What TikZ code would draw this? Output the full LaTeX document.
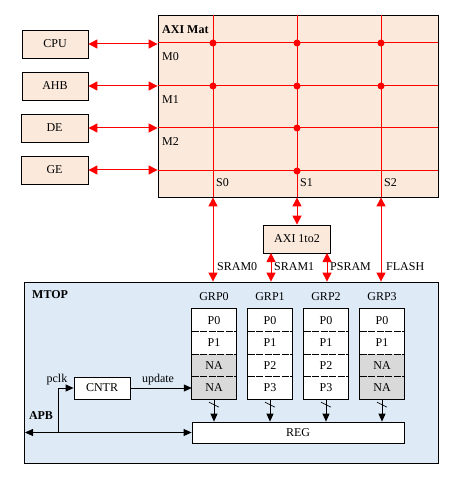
\documentclass[tikz,border=0pt]{standalone}
\usepackage{fontspec}
\setmainfont{Liberation Serif}
\usetikzlibrary{arrows.meta,positioning,calc}
\definecolor{peach}{HTML}{FBE9DC}
\definecolor{lblue}{HTML}{DEEAF6}
\definecolor{ngray}{HTML}{D9D9D9}
\definecolor{rline}{HTML}{FF0000}
\begin{document}
\begin{tikzpicture}[x=1pt,y=-1pt,
  font=\fontsize{12}{14}\selectfont,
  box/.style={draw=black,line width=0.8pt,inner sep=0pt,align=center},
  pbox/.style={box,fill=peach},
  cell/.style={inner sep=0pt,minimum width=44pt,minimum height=22.5pt},
  rl/.style={draw=rline,line width=1pt},
  rarr/.style={rl,{Triangle[length=9pt,width=9pt]}-{Triangle[length=9pt,width=9pt]}},
  rdot/.style={fill=rline,circle,inner sep=0pt,minimum size=7pt},
  barr/.style={draw=black,line width=0.8pt,-{Triangle[length=8pt,width=7pt]}},
  bdarr/.style={draw=black,line width=0.8pt,{Triangle[length=8pt,width=7pt]}-{Triangle[length=8pt,width=7pt]}},
  lbl/.style={inner sep=0pt,anchor=west}
]
\useasboundingbox (0,0) rectangle (452,478);

% masters
\node[pbox,minimum width=66pt,minimum height=28pt] (cpu) at (55,44) {CPU};
\node[pbox,minimum width=66pt,minimum height=28pt] (ahb) at (55,86) {AHB};
\node[pbox,minimum width=67pt,minimum height=28pt] (de) at (54.5,128) {DE};
\node[pbox,minimum width=67pt,minimum height=28pt] (ge) at (54.5,170) {GE};

% AXI Mat
\node[pbox,minimum width=280pt,minimum height=182pt] (mat) at (298,106) {};
\coordinate (r0) at (158,43);
\coordinate (r1) at (158,86);
\coordinate (r2) at (158,128);
\coordinate (r3) at (158,171);
\coordinate (c0) at (213,15);
\coordinate (c1) at (297,15);
\coordinate (c2) at (381,15);
\foreach \r in {r0,r1,r2,r3}{\draw[rl] (\r) -- (\r -| mat.east);}
\foreach \c in {c0,c1,c2}{\draw[rl] (\c) -- (\c |- mat.south);}
\foreach \r/\c in {r0/c0,r0/c1,r0/c2,r1/c0,r1/c1,r1/c2,r2/c1,r3/c1}{\node[rdot] at (\r -| \c) {};}
\node[lbl,font=\fontsize{12}{14}\selectfont\bfseries] (matl) at (162,30) {AXI Mat};
\node[lbl] (m0) at (162,57) {M0};
\node[lbl] (m1) at (162,100) {M1};
\node[lbl] (m2) at (162,142) {M2};
\node[lbl] (s0) at (216,183) {S0};
\node[lbl] (s1) at (300,183) {S1};
\node[lbl] (s2) at (384,183) {S2};

% master arrows
\draw[rarr] (cpu.east) -- (cpu.east -| mat.west);
\draw[rarr] (ahb.east) -- (ahb.east -| mat.west);
\draw[rarr] (de.east) -- (de.east -| mat.west);
\draw[rarr] (ge.east) -- (ge.east -| mat.west);

% MTOP
\node[box,fill=lblue,minimum width=414pt,minimum height=181pt] (mtop) at (231,372.5) {};
\node[lbl,font=\fontsize{12}{14}\selectfont\bfseries] (mtopl) at (32,295) {MTOP};

% AXI 1to2
\node[pbox,minimum width=67pt,minimum height=28pt] (ax) at (297,239) {AXI 1to2};

% slave arrows
\draw[rarr] (c0 |- mat.south) -- (c0 |- mtop.north);
\draw[rarr] (c1 |- mat.south) -- (ax.north);
\coordinate (a1) at (271,253);
\coordinate (a2) at (327,253);
\draw[rarr] (a1) -- (a1 |- mtop.north);
\draw[rarr] (a2) -- (a2 |- mtop.north);
\draw[rarr] (c2 |- mat.south) -- (c2 |- mtop.north);
\node[lbl] (sr0) at (217,267) {SRAM0};
\node[lbl] (sr1) at (274,267) {SRAM1};
\node[lbl] (psr) at (330,267) {PSRAM};
\node[lbl] (fl) at (386,267) {FLASH};

% REG
\node[box,fill=white,minimum width=212pt,minimum height=21pt] (reg) at (298,432.5) {REG};

% groups
\foreach \i/\x/\a/\b/\fa/\fb in {0/214/NA/NA/ngray/ngray,1/270/P2/P3/white/white,2/326/P2/P3/white/white,3/382/NA/NA/ngray/ngray}{
  \node[cell,fill=white] (g\i p0) at (\x,320.25) {P0};
  \node[cell,fill=white] (g\i p1) at (\x,342.75) {P1};
  \node[cell,fill=\fa] (g\i p2) at (\x,365.25) {\a};
  \node[cell,fill=\fb] (g\i p3) at (\x,387.75) {\b};
  \draw[line width=0.8pt,dash pattern=on 7pt off 1.5pt] (g\i p0.south west) -- (g\i p0.south east);
  \draw[line width=0.8pt,dash pattern=on 7pt off 1.5pt] (g\i p1.south west) -- (g\i p1.south east);
  \draw[line width=0.8pt,dash pattern=on 7pt off 1.5pt] (g\i p2.south west) -- (g\i p2.south east);
  \draw[line width=0.8pt] (g\i p0.north west) rectangle (g\i p3.south east);
  \node[inner sep=0pt] (gl\i) at (\x,297) {GRP\i};
  \draw[barr] (g\i p3.south) -- (g\i p3.south |- reg.north);
  \draw[line width=0.6pt] ($(g\i p3.south)+(-5,3)$) -- ($(g\i p3.south)+(5,8)$);
}

% CNTR
\node[box,fill=white,minimum width=56pt,minimum height=22pt] (cntr) at (102,388) {CNTR};
\draw[barr] (cntr.east) -- (cntr.east -| g0p3.west);
\node[inner sep=0pt] (upd) at (158,380) {update};
\coordinate (apbl) at (25,432.5);
\coordinate (pk) at (58,432.5);
\draw[bdarr] (apbl) -- (reg.west);
\draw[barr] (pk) |- (cntr.west);
\node[inner sep=0pt] (pclk) at (57,380) {pclk};
\node[inner sep=0pt,font=\fontsize{12}{14}\selectfont\bfseries] (apb) at (41,416) {APB};
\end{tikzpicture}
\end{document}
